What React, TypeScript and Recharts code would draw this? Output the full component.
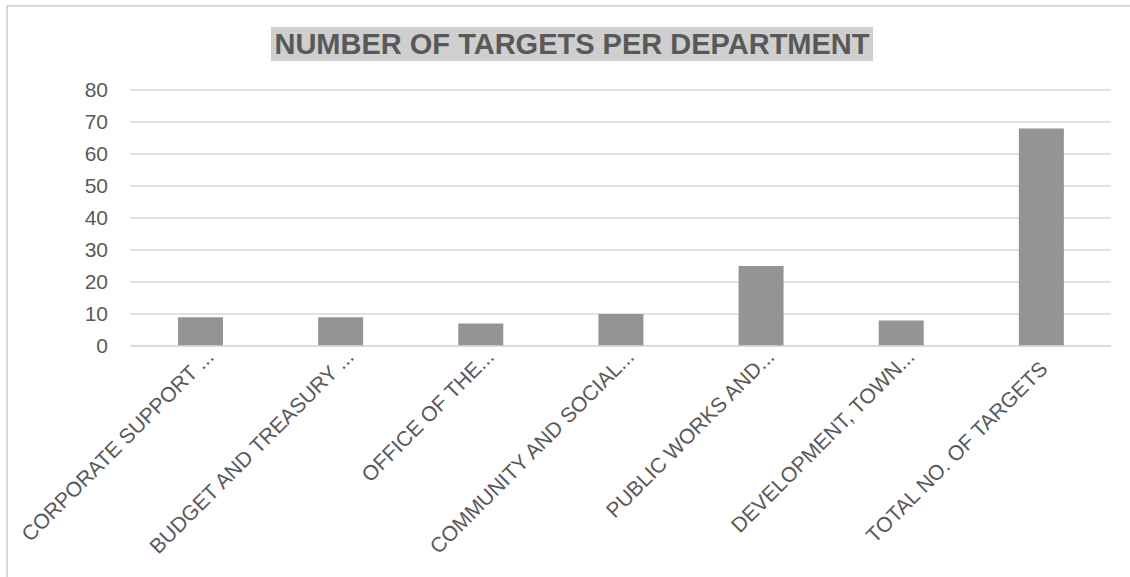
import React from 'react';
import { BarChart, Bar, XAxis, YAxis, CartesianGrid } from 'recharts';

const departments = [
  'CORPORATE SUPPORT ...',
  'BUDGET AND TREASURY ...',
  'OFFICE OF THE...',
  'COMMUNITY AND SOCIAL...',
  'PUBLIC WORKS AND...',
  'DEVELOPMENT, TOWN...',
  'TOTAL NO. OF TARGETS',
];
const targets = [9, 9, 7, 10, 25, 8, 68];
const yTicks = [0, 10, 20, 30, 40, 50, 60, 70, 80];
const title = 'NUMBER OF TARGETS PER DEPARTMENT';

const data = departments.map((name, i) => ({ name, value: targets[i] }));

const FONT = '"Liberation Sans", Arial, sans-serif';

const CategoryTick = (props: any) => {
  const { x, y, payload } = props;
  const truncated = String(payload.value).endsWith('...');
  const ax = x + (truncated ? 15 : 8);
  const ay = y + (truncated ? 12 : 24);
  return (
    <text
      x={ax}
      y={ay}
      textAnchor="end"
      fill="#595959"
      fontSize={21}
      fontFamily={FONT}
      transform={`rotate(-45, ${ax}, ${ay})`}
    >
      {payload.value}
    </text>
  );
};

export default function App() {
  return (
    <div style={{ position: 'absolute', left: 0, top: 0, width: 1130, height: 577, overflow: 'hidden', background: '#fff', fontFamily: FONT }}>
      <div style={{ position: 'absolute', left: 6, top: 5, width: 1200, height: 700, borderLeft: '2px solid #d9d9d9', borderTop: '2px solid #d9d9d9' }} />
      <div style={{ position: 'absolute', left: 0, top: 0 }}>
        <BarChart width={1130} height={577} data={data} margin={{ top: 90, right: 19, bottom: 0, left: 70 }}>
          <CartesianGrid vertical={false} stroke="#d9d9d9" strokeWidth={1.5} />
          <YAxis
            domain={[0, 80]}
            ticks={yTicks}
            width={60}
            axisLine={false}
            tickLine={false}
            tickSize={6}
            tickMargin={16}
            interval={0}
            tick={{ fill: '#595959', fontSize: 21, fontFamily: FONT }}
          />
          <XAxis
            dataKey="name"
            interval={0}
            height={231}
            axisLine={{ stroke: '#d9d9d9', strokeWidth: 1.5 }}
            tickLine={false}
            tickSize={0}
            tickMargin={0}
            tick={<CategoryTick />}
          />
          <Bar dataKey="value" fill="#949494" barSize={45} isAnimationActive={false} />
        </BarChart>
      </div>
      <div style={{ position: 'absolute', left: 271, top: 27, height: 34, lineHeight: '34px', width: 602, textAlign: 'center', background: '#cfcfcf', color: '#595959', fontSize: 29, fontWeight: 'bold', fontFamily: FONT, whiteSpace: 'nowrap' }}>
        {title}
      </div>
    </div>
  );
}
